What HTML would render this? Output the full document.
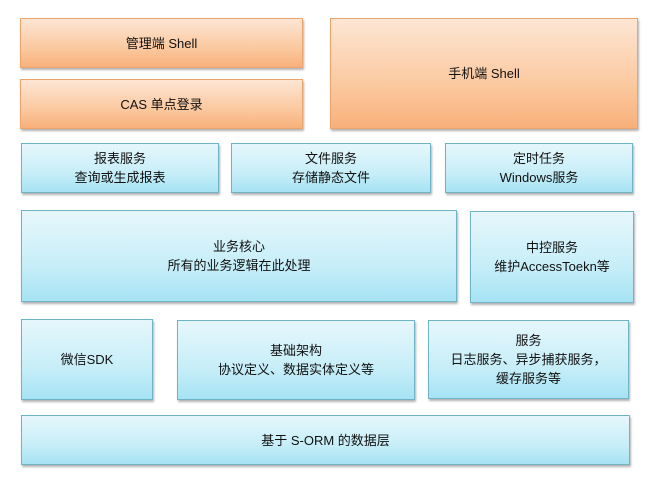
<!DOCTYPE html>
<html><head><meta charset="utf-8"><style>
body{margin:0;width:667px;height:489px;background:#fff;position:relative;overflow:hidden;font-family:"Liberation Sans","Noto Sans CJK SC",sans-serif;font-size:13px;color:#111}
.b{position:absolute;box-sizing:border-box;display:flex;align-items:center;justify-content:center;text-align:center;line-height:19px;box-shadow:1px 2px 2px rgba(0,0,0,0.3)}
.o{background:linear-gradient(#fde6d4,#fbc9a0 60%,#f8b07a);border:1px solid #eaa46c}
.c{background:linear-gradient(#e6f7fc,#c7eef8 60%,#a6e3f4);border:1px solid #6fb3c6}
</style></head><body>
<div class="b o" style="left:20px;top:18px;width:283px;height:50px">管理端 Shell</div>
<div class="b o" style="left:20px;top:79px;width:283px;height:50px">CAS 单点登录</div>
<div class="b o" style="left:330px;top:18px;width:308px;height:111px">手机端 Shell</div>
<div class="b c" style="left:21px;top:143px;width:198px;height:50px">报表服务<br>查询或生成报表</div>
<div class="b c" style="left:231px;top:143px;width:200px;height:50px">文件服务<br>存储静态文件</div>
<div class="b c" style="left:445px;top:143px;width:188px;height:50px">定时任务<br>Windows服务</div>
<div class="b c" style="left:21px;top:210px;width:436px;height:92px">业务核心<br>所有的业务逻辑在此处理</div>
<div class="b c" style="left:470px;top:211px;width:164px;height:92px">中控服务<br>维护AccessToekn等</div>
<div class="b c" style="left:21px;top:319px;width:132px;height:81px">微信SDK</div>
<div class="b c" style="left:177px;top:320px;width:238px;height:80px">基础架构<br>协议定义、数据实体定义等</div>
<div class="b c" style="left:428px;top:320px;width:201px;height:79px">服务<br>日志服务、异步捕获服务，<br>缓存服务等</div>
<div class="b c" style="left:21px;top:415px;width:609px;height:50px">基于 S-ORM 的数据层</div>
</body></html>
